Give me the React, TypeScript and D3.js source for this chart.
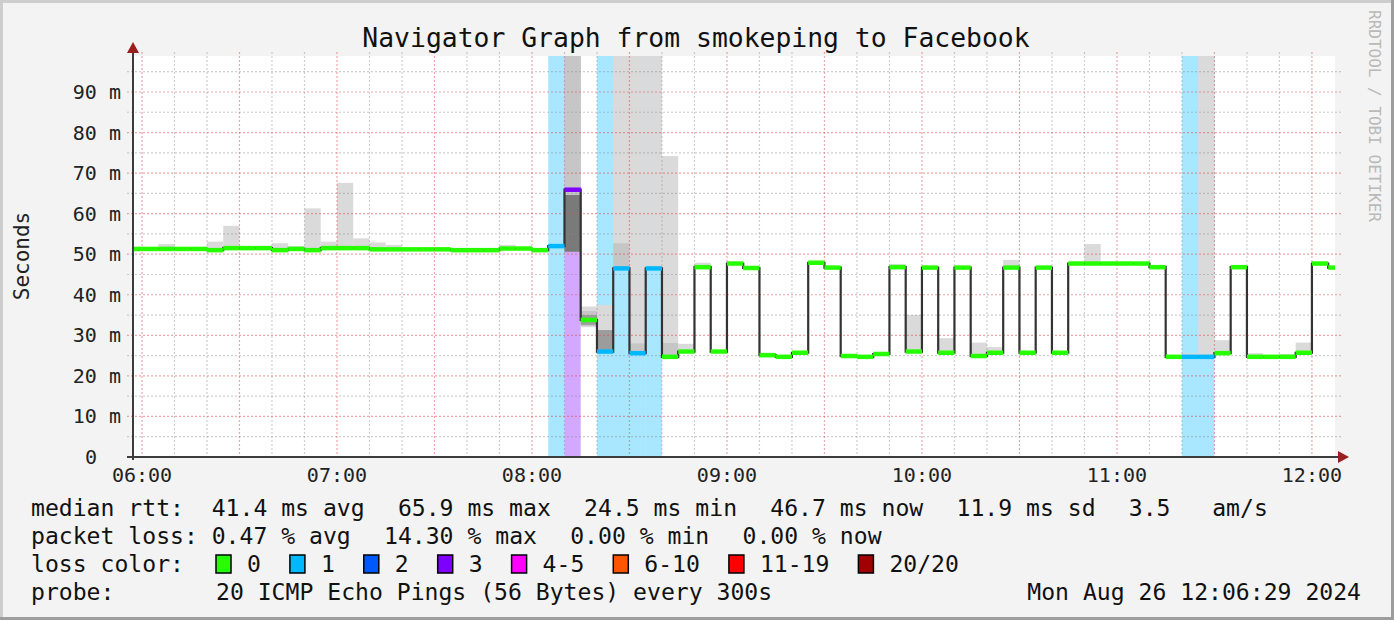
import React from 'react';
import * as d3 from 'd3';

const W = 1394;
const H = 620;

// ---------- data ----------
const title = 'Navigator Graph from smokeping to Facebook';
const firstStep = '05:55'; // start of first 5-minute step
const stepMinutes = 5;

// median rtt (ms), one value per 5-minute step starting 05:55
const medianRtt = [
  51.3,
  51.3, 51.3, 51.3, 51.3, 51.0, 51.5, 51.5, 51.5, 51.0, 51.3, 51.0, 51.5,
  51.5, 51.5, 51.2, 51.2, 51.2, 51.2, 51.2, 51.0, 51.0, 51.0, 51.4, 51.4,
  51.0, 52.0, 65.9, 33.8, 26.0, 46.5, 25.6, 46.5, 24.7, 26.0, 46.8, 26.0,
  47.7, 46.6, 25.1, 24.7, 25.7, 47.9, 46.7, 24.9, 24.7, 25.4, 46.8, 26.0,
  46.7, 25.7, 46.7, 24.9, 25.7, 46.7, 25.7, 46.7, 25.7, 47.7, 47.7, 47.7,
  47.7, 47.7, 46.8, 24.7, 24.7, 24.7, 25.6, 46.8, 24.7, 24.7, 24.7, 25.7,
  47.7, 46.7,
];

// lost pings (of 20) for steps with loss
const lossSteps: [string, number][] = [
  ['08:05', 1], ['08:10', 3], ['08:20', 1], ['08:25', 1], ['08:30', 1], ['08:35', 1],
  ['11:20', 1], ['11:25', 1],
];

// smoke bands: [step start, low ms, high ms]
const smokeLight: [string, number, number][] = [
  ['06:05', 51.3, 52.5], ['06:20', 51.0, 53.1], ['06:25', 51.5, 57.0], ['06:40', 51.0, 52.7],
  ['06:45', 51.3, 52.0], ['06:50', 51.0, 61.3], ['06:55', 51.5, 53.1], ['07:00', 51.5, 67.6],
  ['07:05', 51.5, 53.9], ['07:10', 51.2, 52.9], ['07:15', 51.2, 52.3], ['07:50', 51.4, 52.3],
  ['08:15', 32.0, 37.1], ['08:20', 26.0, 37.5], ['08:25', 46.5, 100], ['08:30', 25.6, 100],
  ['08:35', 46.5, 100], ['08:40', 24.7, 74.2], ['08:45', 26.0, 27.9], ['08:50', 46.8, 47.9],
  ['09:10', 25.1, 25.7], ['09:50', 46.8, 47.6], ['09:55', 26.0, 35.0], ['10:05', 25.7, 29.3],
  ['10:15', 24.9, 28.2], ['10:20', 25.7, 27.1], ['10:25', 46.7, 48.6], ['10:50', 47.7, 52.5],
  ['11:20', 24.7, 25.6], ['11:25', 24.7, 100], ['11:30', 25.6, 28.8], ['11:40', 24.7, 25.6],
  ['11:50', 24.7, 25.4], ['11:55', 25.7, 28.2],
];
const smokeMid: [string, number, number][] = [
  ['08:10', 50.6, 100], ['08:25', 46.8, 52.7], ['08:30', 25.9, 28.0], ['08:40', 25.1, 28.1],
  ['08:15', 32.3, 36.0],
];
const smokeDark: [string, number, number][] = [
  ['08:15', 32.6, 35.0], ['08:20', 26.4, 31.3],
];
const smokeCore: [string, number, number][] = [
  ['08:10', 50.6, 64.6],
];

const yTicks = [0, 10, 20, 30, 40, 50, 60, 70, 80, 90];
const xTickLabels = ['06:00', '07:00', '08:00', '09:00', '10:00', '11:00', '12:00'];

const lossLegend: [string, string][] = [
  ['0', '#26ff00'], ['1', '#00b8ff'], ['2', '#0059ff'], ['3', '#7e00ff'],
  ['4-5', '#ff00ff'], ['6-10', '#ff5500'], ['11-19', '#ff0000'], ['20/20', '#a10000'],
];
const lossThresholds = [0, 1, 2, 3, 5, 10, 19, 20];

const rttLabel = 'median rtt:  ';
const rttItems = ['41.4 ms avg  ', '65.9 ms max  ', '24.5 ms min  ', '46.7 ms now  ', '11.9 ms sd  ', '3.5   am/s'];
const lossLabel = 'packet loss: ';
const lossItems = ['0.47 % avg  ', '14.30 % max  ', '0.00 % min  ', '0.00 % now'];
const lossColorLabel = 'loss color:';
const probeLabel = 'probe:';
const probeText = '20 ICMP Echo Pings (56 Bytes) every 300s';
const stampText = 'Mon Aug 26 12:06:29 2024';
const watermark = 'RRDTOOL / TOBI OETIKER';

// ---------- helpers ----------
const T = (hm: string, s = 0) => {
  const [h, m] = hm.split(':').map(Number);
  return new Date(Date.UTC(2024, 7, 26, h, m, s));
};
const STEP = stepMinutes * 60000;
const stepStart = (i: number) => new Date(T(firstStep).getTime() + i * STEP);
const stepEnd = (d: Date) => new Date(d.getTime() + STEP);

const lossColor = (n: number) => {
  for (let i = 0; i < lossThresholds.length; i++) if (n <= lossThresholds[i]) return lossLegend[i][1];
  return lossLegend[lossLegend.length - 1][1];
};

const MONO = '"DejaVu Sans Mono", "Liberation Mono", monospace';

export default function App() {
  const left = 133, right = 1335, top = 56, bottom = 457;
  const x = d3.scaleUtc().domain([T('05:57', 14), T('12:07', 6)]).range([left, right]);
  const y = d3.scaleLinear().domain([0, 98.87]).range([bottom, top]);

  const lossMap = new Map(lossSteps.map(([t, n]) => [T(t).getTime(), n]));
  const steps = medianRtt.map((v, i) => {
    const s = stepStart(i);
    return { s, e: stepEnd(s), v, loss: lossMap.get(s.getTime()) ?? 0 };
  });

  const pts: [number, number][] = [];
  steps.forEach((d) => {
    pts.push([x(d.s), y(d.v)]);
    pts.push([x(d.e), y(d.v)]);
  });
  const darkPath = d3.line()(pts) || '';

  const minorY = d3.range(5, 99, 5).filter((v) => v % 10 !== 0);
  const majorY = d3.range(10, 99, 10);
  const tMin = x.domain()[0], tMax = x.domain()[1];
  const minorX = d3.utcMinute.every(10)!.range(tMin, tMax).filter((d) => d.getUTCMinutes() % 30 !== 0);
  const majorX = d3.utcMinute.every(30)!.range(tMin, tMax);

  const band = (arr: [string, number, number][], fill: string, key: string) =>
    arr.map(([t, lo, hi]) => {
      const s = T(t);
      return (
        <rect key={key + t} x={x(s)} width={x(stepEnd(s)) - x(s)} y={y(hi)} height={y(lo) - y(hi)} fill={fill} />
      );
    });

  const charW = 13.9;
  const itemGap = 5.5;
  const placeItems = (label: string, items: string[], x0: number) => {
    let cx = x0 + label.length * charW;
    return items.map((s, i) => {
      const px = cx;
      cx += s.length * charW + itemGap;
      return { s, x: px, i };
    });
  };
  const rttPlaced = placeItems(rttLabel, rttItems, 31);
  const lossPlaced = placeItems(lossLabel, lossItems, 31);

  let lx = 216;
  const legendItems = lossLegend.map(([label, color]) => {
    const item = { label, color, x: lx };
    lx += 31 + label.length * charW + 29;
    return item;
  });

  const textStyle: React.CSSProperties = { whiteSpace: 'pre' };

  return (
    <svg width={W} height={H} style={{ position: 'absolute', left: 0, top: 0 }} fontFamily={MONO}>
      <defs>
        <clipPath id="plot">
          <rect x={left} y={top} width={right - left} height={bottom - top} />
        </clipPath>
      </defs>
      <rect x={0} y={0} width={W} height={H} fill="#f3f3f3" />
      <rect x={0} y={0} width={W} height={3} fill="#cdcdcd" />
      <rect x={0} y={0} width={3} height={H} fill="#cdcdcd" />
      <rect x={0} y={H - 3} width={W} height={3} fill="#9d9d9d" />
      <rect x={W - 3} y={0} width={3} height={H} fill="#9d9d9d" />

      <rect x={left} y={top} width={right - left} height={bottom - top} fill="#ffffff" />

      <g clipPath="url(#plot)">
        {steps
          .filter((d) => d.loss > 0)
          .map((d, i) => (
            <rect key={'l' + i} x={x(d.s)} width={x(d.e) - x(d.s)} y={top} height={bottom - top}
              fill={lossColor(d.loss)} fillOpacity={0.34} />
          ))}
        {band(smokeLight, '#dadada', 'sl')}
        {band(smokeMid, '#c6c6c6', 'sm')}
        {band(smokeDark, '#9c9c9c', 'sd')}
        {band(smokeCore, '#7a7a7a', 'sc')}
      </g>

      <g strokeWidth={1.2} strokeDasharray="2,2" fill="none">
        {minorY.map((v) => (
          <line key={'my' + v} x1={left - 6} x2={right + 8} y1={y(v)} y2={y(v)} stroke="rgba(140,140,140,0.42)" />
        ))}
        {minorX.map((d) => (
          <line key={'mx' + d.getTime()} x1={x(d)} x2={x(d)} y1={top - 4} y2={bottom} stroke="rgba(140,140,140,0.42)" />
        ))}
        {majorY.map((v) => (
          <line key={'My' + v} x1={left - 6} x2={right + 8} y1={y(v)} y2={y(v)} stroke="rgba(222,80,80,0.5)" />
        ))}
        {majorX.map((d) => (
          <line key={'Mx' + d.getTime()} x1={x(d)} x2={x(d)} y1={top - 4} y2={bottom} stroke="rgba(222,80,80,0.5)" />
        ))}
      </g>

      <g clipPath="url(#plot)">
        <path d={darkPath} fill="none" stroke="#333" strokeWidth={2.2} />
        {steps.map((d, i) => (
          <line key={'m' + i} x1={x(d.s)} x2={x(d.e)} y1={y(d.v)} y2={y(d.v)} stroke={lossColor(d.loss)} strokeWidth={4.5} />
        ))}
      </g>

      <line x1={left} x2={left} y1={bottom + 3} y2={52} stroke="#3c3c3c" strokeWidth={2} />
      <path d={`M${left},42 L${left - 6},53 L${left + 6},53 Z`} fill="#9a1f1f" />
      <line x1={127} x2={1340} y1={bottom} y2={bottom} stroke="#3c3c3c" strokeWidth={2} />
      <path d={`M1349,${bottom} L1338,${bottom - 6} L1338,${bottom + 6} Z`} fill="#9a1f1f" />

      <g fontSize={20} fill="#222" textAnchor="end">
        {yTicks.map((v) => (
          <text key={'yt' + v} x={v === 0 ? 97 : 121} y={y(v) + 7} style={textStyle}>
            {v === 0 ? '0' : `${v} m`}
          </text>
        ))}
      </g>
      <g fontSize={20} fill="#222" textAnchor="middle">
        {xTickLabels.map((t) => (
          <text key={'xt' + t} x={x(T(t))} y={482}>{t}</text>
        ))}
      </g>

      <text transform="translate(29,256) rotate(-90)" textAnchor="middle" fontSize={21} fill="#222">Seconds</text>
      <text transform="translate(1369,10) rotate(90)" fontSize={16} fill="#b9b9b9">{watermark}</text>

      <text x={696} y={47} textAnchor="middle" fontSize={26.4} fill="#111">{title}</text>

      <g fontSize={23.1} fill="#111">
        <text x={31} y={516} style={textStyle}>{rttLabel}</text>
        {rttPlaced.map((it) => (
          <text key={'r' + it.i} x={it.x} y={516} style={textStyle}>{it.s}</text>
        ))}
        <text x={31} y={544} style={textStyle}>{lossLabel}</text>
        {lossPlaced.map((it) => (
          <text key={'p' + it.i} x={it.x} y={544} style={textStyle}>{it.s}</text>
        ))}
        <text x={31} y={572} style={textStyle}>{lossColorLabel}</text>
        {legendItems.map((it) => (
          <g key={'lg' + it.label}>
            <rect x={it.x} y={555} width={15} height={18} fill={it.color} stroke="#000" strokeWidth={1.5} />
            <text x={it.x + 31} y={572}>{it.label}</text>
          </g>
        ))}
        <text x={31} y={600}>{probeLabel}</text>
        <text x={216} y={600} style={textStyle}>{probeText}</text>
        <text x={1361} y={600} textAnchor="end">{stampText}</text>
      </g>
    </svg>
  );
}
